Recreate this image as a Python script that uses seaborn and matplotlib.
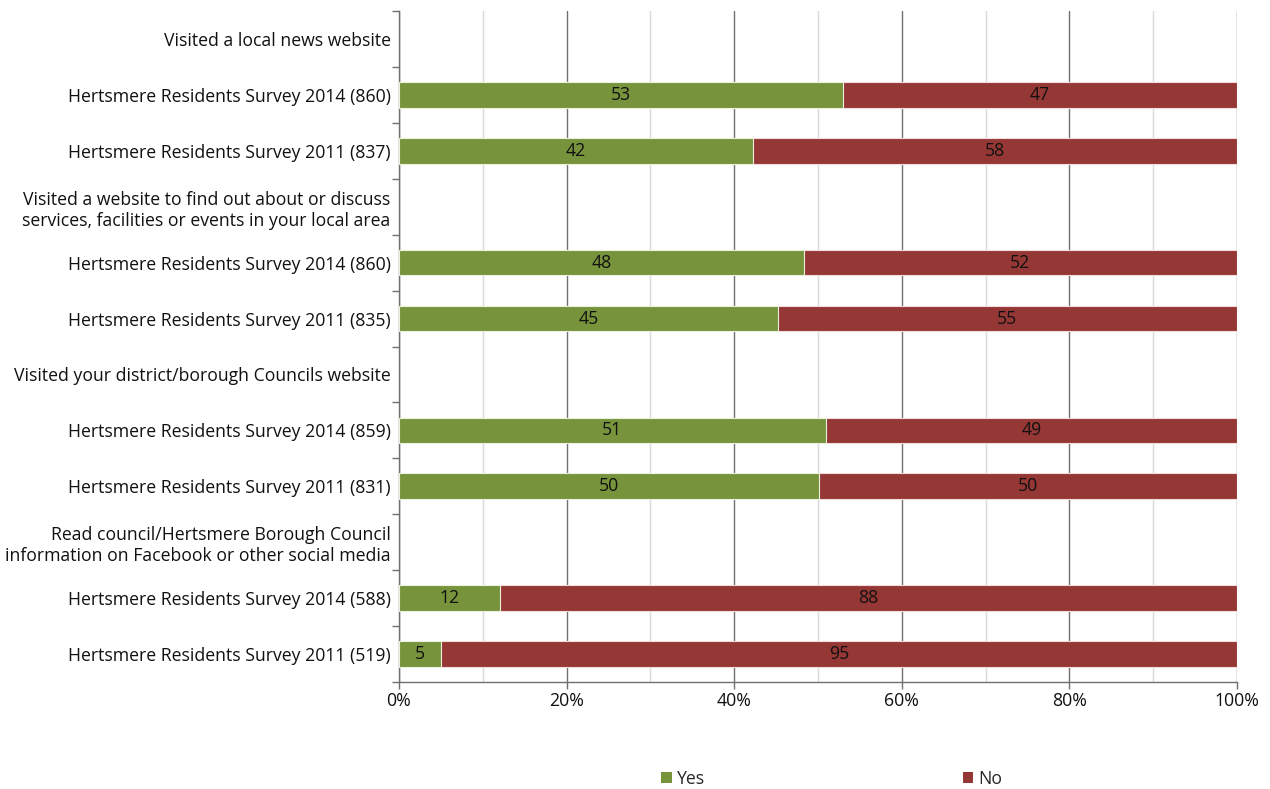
import numpy as np
import pandas as pd
import matplotlib
matplotlib.use('Agg')
import matplotlib.pyplot as plt
from matplotlib.patches import Patch
from matplotlib.ticker import MultipleLocator, PercentFormatter
import seaborn as sns

# Filas del gráfico (de arriba a abajo); las cabeceras no tienen barra
row_labels = [
    'Visited a local news website',
    'Hertsmere Residents Survey 2014 (860)',
    'Hertsmere Residents Survey 2011 (837)',
    'Visited a website to find out about or discuss\nservices, facilities or events in your local area',
    'Hertsmere Residents Survey 2014 (860)',
    'Hertsmere Residents Survey 2011 (835)',
    'Visited your district/borough Councils website',
    'Hertsmere Residents Survey 2014 (859)',
    'Hertsmere Residents Survey 2011 (831)',
    'Read council/Hertsmere Borough Council\ninformation on Facebook or other social media',
    'Hertsmere Residents Survey 2014 (588)',
    'Hertsmere Residents Survey 2011 (519)',
]
bar_rows = [1, 2, 4, 5, 7, 8, 10, 11]
yes_pct = [53.0, 42.2, 48.3, 45.2, 50.9, 50.1, 12.1, 5.0]
no_pct = [47.0, 57.8, 51.7, 54.8, 49.1, 49.9, 87.9, 95.0]

green = '#77933C'
red = '#953735'

row_keys = [f'r{i}' for i in range(len(row_labels))]
df = pd.DataFrame({
    'fila': [row_keys[i] for i in bar_rows],
    'yes': yes_pct,
    'no': no_pct,
})
df['total'] = df['yes'] + df['no']

sns.set_style('white')
plt.rcParams['font.family'] = ['Open Sans', 'DejaVu Sans']
fs = 12.7
txt = '#111111'

fig = plt.figure(figsize=(12.7, 7.89), dpi=100)
ax = fig.add_axes([399 / 1270, 1 - 682 / 789, 838 / 1270, 671 / 789])

# Rejilla (mayor cada 20 %, menor cada 10 %)
ax.xaxis.set_major_locator(MultipleLocator(20))
ax.xaxis.set_minor_locator(MultipleLocator(10))
ax.grid(axis='x', which='major', color='#6f6f6f', linewidth=1.0, zorder=0)
ax.grid(axis='x', which='minor', color='#d9d9d9', linewidth=1.0, zorder=0)
ax.set_axisbelow(True)

# Barras apiladas: primero el total (No), luego Yes encima
sns.barplot(data=df, x='total', y='fila', order=row_keys, orient='h',
            color=red, saturation=1, width=0.46, edgecolor='#f2dcdb',
            linewidth=0.8, errorbar=None, ax=ax, zorder=2)
sns.barplot(data=df, x='yes', y='fila', order=row_keys, orient='h',
            color=green, saturation=1, width=0.46, edgecolor='#ebf1de',
            linewidth=0.8, errorbar=None, ax=ax, zorder=3)

# Etiquetas de datos
for r, y, n in zip(bar_rows, yes_pct, no_pct):
    ax.text(y / 2, r, f'{y:.0f}', ha='center', va='center', fontsize=fs, color=txt, zorder=4)
    ax.text(y + n / 2, r, f'{n:.0f}', ha='center', va='center', fontsize=fs, color=txt, zorder=4)

ax.set_xlim(0, 100)
ax.set_ylim(len(row_labels) - 0.5, -0.5)
ax.xaxis.set_major_formatter(PercentFormatter(decimals=0))
ax.set_xlabel('')
ax.set_ylabel('')

# Etiquetas del eje Y centradas y marcas entre categorías
ax.set_yticks(range(len(row_labels)))
ax.set_yticklabels(row_labels, fontsize=fs, color=txt)
ax.set_yticks(np.arange(-0.5, len(row_labels), 1), minor=True)
ax.tick_params(axis='y', which='major', length=0, pad=6)
ax.tick_params(axis='y', which='minor', length=5, width=1, color='#6f6f6f', direction='out', left=True)
ax.tick_params(axis='x', which='major', length=5, width=1, color='#6f6f6f', direction='out',
               bottom=True, labelsize=fs, labelcolor=txt, pad=2)
ax.tick_params(axis='x', which='minor', length=0)

sns.despine(ax=ax, top=True, right=True)
for s in ['left', 'bottom']:
    ax.spines[s].set_color('#6f6f6f')
    ax.spines[s].set_linewidth(1.0)

# Leyenda inferior
handles = [Patch(facecolor=green, edgecolor='none', label='Yes'),
           Patch(facecolor=red, edgecolor='none', label='No')]
fig.legend(handles=handles, loc='center', bbox_to_anchor=(832 / 1270, 1 - 779 / 789),
           ncol=2, frameon=False, fontsize=fs, handlelength=0.6, handleheight=0.6,
           handletextpad=0.3, columnspacing=14.6)

fig.savefig('out.png', dpi=100)
plt.close(fig)
